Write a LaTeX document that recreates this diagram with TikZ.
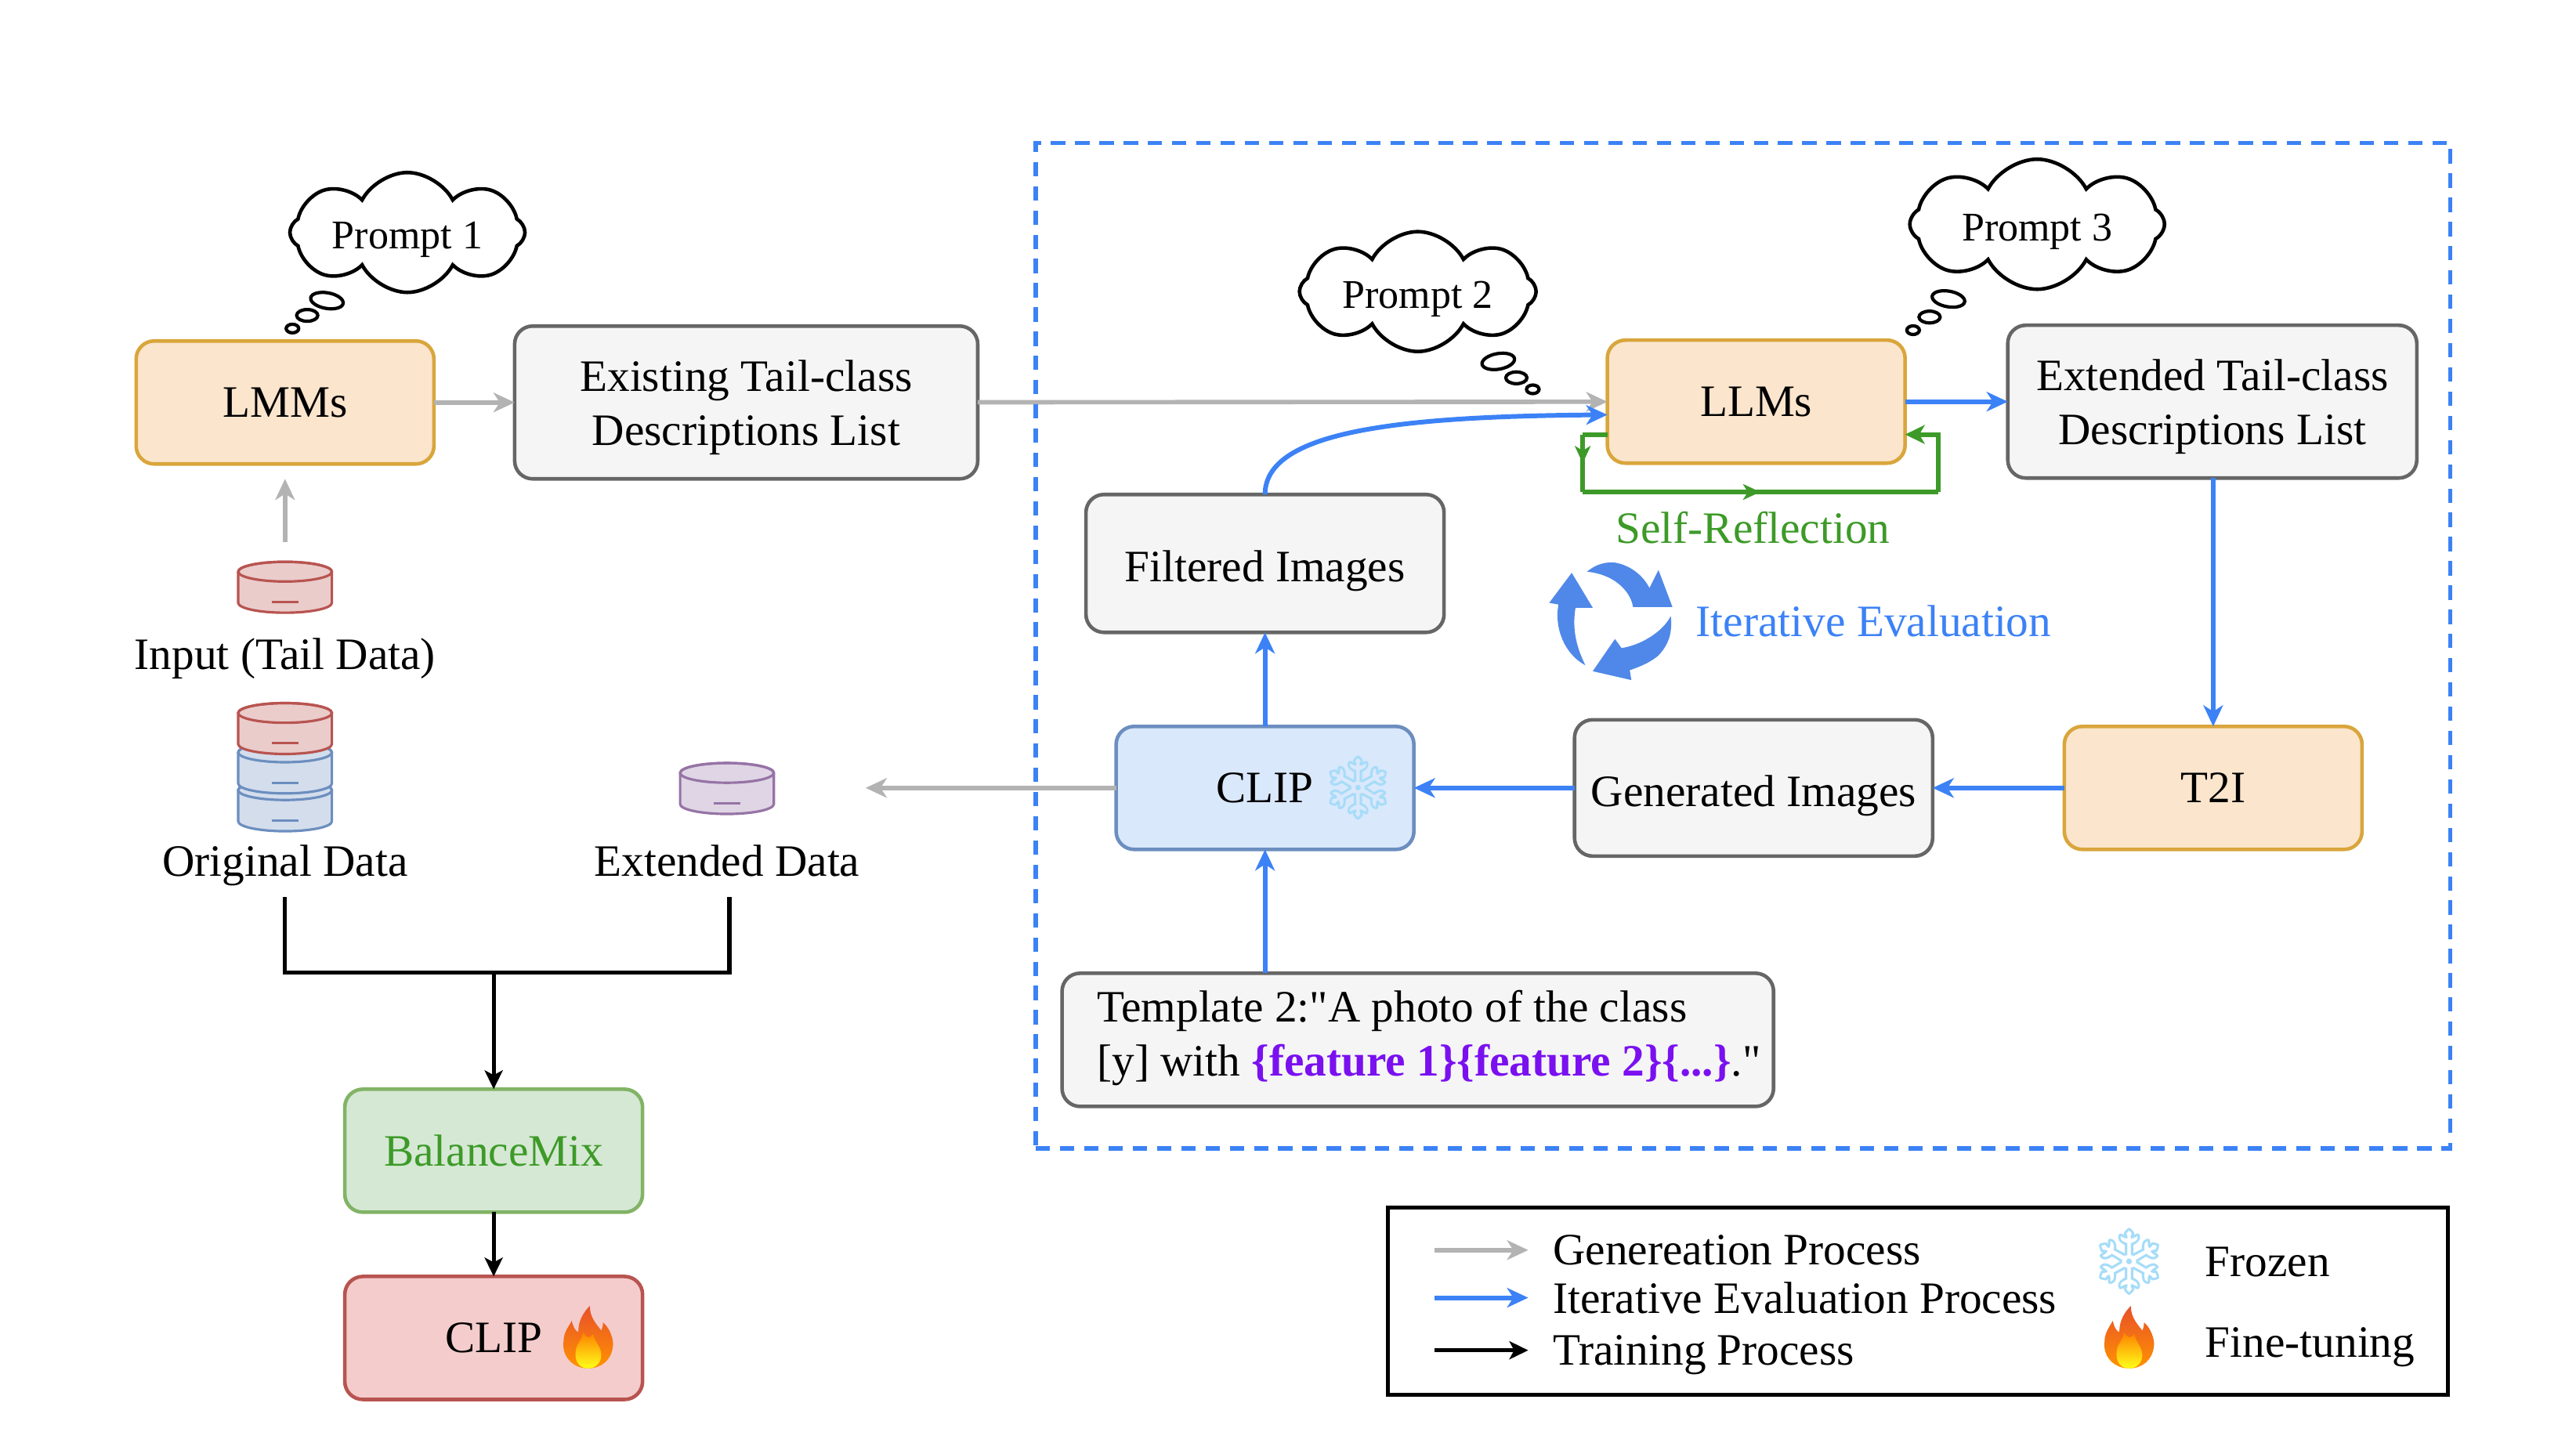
\documentclass[tikz,border=0pt]{standalone}
\usepackage{fontspec}
\setmainfont{Liberation Serif}[Ligatures=TeXOff]
\newfontfamily\emojifont{Noto Emoji}
\usetikzlibrary{shapes,shapes.symbols,arrows.meta,positioning,calc,decorations.markings}
\definecolor{lineblue}{HTML}{3C82F6}
\definecolor{iconblue}{HTML}{4F88E8}
\definecolor{selfgreen}{HTML}{3D9A28}
\definecolor{genpurple}{HTML}{7A10F0}
\definecolor{genarrgray}{HTML}{B3B3B3}
\definecolor{snowblue}{HTML}{A6DCF8}
\definecolor{orangeline}{HTML}{D9A63C}
\definecolor{orangefill}{HTML}{FBE5CD}
\definecolor{flamered}{HTML}{E8502A}
\definecolor{dbred}{HTML}{B85450}
\definecolor{dbblue}{HTML}{6C8EBF}
\definecolor{dbpurple}{HTML}{9673A6}
\definecolor{bluefill}{HTML}{DAE8FC}
\definecolor{redfill}{HTML}{F4CCCC}
\definecolor{greenfill}{HTML}{D5E8D4}
\definecolor{greenline}{HTML}{82B366}
\tikzset{
	basebox/.style={rectangle, rounded corners=0.23cm, line width=1.3pt, align=center, font=\fontsize{16.3}{19.6}\selectfont, inner sep=3pt, outer sep=0pt, text depth=0pt},
	modelbox/.style={basebox, minimum width=3.8cm, minimum height=1.57cm},
	listbox/.style={basebox, draw=black!60, fill=black!4},
	orangebox/.style={modelbox, draw=orangeline, fill=orangefill},
	cloudbox/.style={cloud, cloud puffs=8, cloud puff arc=125, cloud ignores aspect, draw=black, line width=1.3pt, fill=white, inner sep=0pt, font=\fontsize{14.8}{17}\selectfont, text depth=0pt, text height=12pt},
	bubble/.style={ellipse, draw=black, line width=1.2pt, inner sep=0pt, fill=white},
	plainlabel/.style={font=\fontsize{16.3}{19.6}\selectfont, inner sep=0pt, text depth=0pt},
	genarr/.style={-{Stealth[length=2.7mm, width=2.5mm, inset=0.8mm]}, line width=1.6pt, draw=genarrgray},
	iterarr/.style={-{Stealth[length=2.7mm, width=2.5mm, inset=0.8mm]}, line width=1.7pt, draw=lineblue},
	trainarr/.style={-{Stealth[length=2.4mm, width=2.3mm, inset=0.6mm]}, line width=1.5pt, draw=black},
	selfline/.style={line width=1.7pt, draw=selfgreen},
	midtip/.style={postaction={decorate}, decoration={markings, mark=at position 0.5 with {\arrow{Stealth[length=2.2mm, width=2mm, inset=0.6mm]}}}},
	pics/dbcan/.style={code={
		\path[fill=#1!30!white, draw=#1, line width=0.9pt] (-28.5,-9.5) -- (-28.5,9.5)
			arc[start angle=180, end angle=0, x radius=28.5, y radius=6] -- (28.5,-9.5)
			arc[start angle=0, end angle=-180, x radius=28.5, y radius=6] -- cycle;
		\draw[#1, line width=0.9pt] (0,-9.5) ellipse[x radius=28.5, y radius=6];
		\draw[#1, line width=0.9pt] (-8,9) -- (8,9);
	}},
	pics/flame/.style={code={
		\shade[top color=flamered, bottom color=orange!85!yellow]
			(0,19) .. controls (-10,19) and (-16,11) .. (-15,3)
			.. controls (-15,-3) and (-12,-6) .. (-10,-10)
			.. controls (-9,-6) and (-8,-4) .. (-6,-3)
			.. controls (-6,-10) and (-3,-15) .. (1,-19)
			.. controls (1,-12) and (5,-8) .. (8,-4)
			.. controls (9,-6) and (9,-8) .. (9,-9)
			.. controls (13,-6) and (16,2) .. (15,6)
			.. controls (14,14) and (8,19) .. (0,19) -- cycle;
		\shade[top color=orange, bottom color=yellow!90!white]
			(0,19) .. controls (-7,19) and (-9,12) .. (-7,6)
			.. controls (-6,3) and (-4,2) .. (-3,-3)
			.. controls (-1,1) and (1,1) .. (3,-2)
			.. controls (4,3) and (8,6) .. (8,11)
			.. controls (8,15) and (5,19) .. (0,19) -- cycle;
	}}
}

\begin{document}
\begin{tikzpicture}[x=0.02097cm, y=-0.02097cm]
	\useasboundingbox (0,0) rectangle (1568,871.7);

	% left column
	\node[orangebox] (lmm) at (173.5,245) {LMMs};
	\node[listbox, minimum width=5.91cm, minimum height=1.95cm, right=1.03cm of lmm] (exist) {Existing Tail-class\\Descriptions List};
	\coordinate (inp) at (173.5,357.5);
	\pic at (inp) {dbcan=dbred};
	\node[plainlabel] (inplab) at (173.5,398) {Input (Tail Data)};
	\coordinate (orgc) at (173.5,490.5);
	\coordinate (orgb) at (173.5,467.5);
	\coordinate (orga) at (173.5,443.5);
	\pic at (orgc) {dbcan=dbblue};
	\pic at (orgb) {dbcan=dbblue};
	\pic at (orga) {dbcan=dbred};
	\node[plainlabel] (orglab) at (173.5,524) {Original Data};
	\coordinate (extc) at (442.5,480);
	\pic at (extc) {dbcan=dbpurple};
	\node[plainlabel] (extlab) at (442.5,524) {Extended Data};

	% iterative part
	\node[orangebox] (llm) at (1069,244.5) {LLMs};
	\node[listbox, minimum width=5.22cm, minimum height=1.95cm, right=1.31cm of llm] (extd) {Extended Tail-class\\Descriptions List};
	\node[listbox, minimum width=4.57cm, minimum height=1.76cm, text height=13.5pt] (filt) at (770,343) {Filtered Images};
	\node[modelbox, draw=dbblue, fill=bluefill, below=1.2cm of filt] (clipf) {CLIP};
	\node[listbox, minimum width=4.57cm, minimum height=1.74cm, text height=13.5pt, right=2.05cm of clipf] (gen) {Generated Images};
	\node[orangebox, right=1.68cm of gen] (tti) {T2I};
	\node[listbox, minimum width=9.08cm, minimum height=1.7cm] (tmpl) at (863,633) {};
	\node[plainlabel, anchor=west, align=left] (tmpltext) at ($(tmpl.west)+(21,-4)$) {Template 2:"A photo of the class\\{}[y] with \textcolor{genpurple}{\textbf{\{feature 1\}\{feature 2\}\{...\}}}."};
	\node[inner sep=0pt, text=snowblue, font=\emojifont\fontsize{23}{23}\selectfont] (snowa) at (827,479.5) {❄};

	% training part
	\node[modelbox, draw=greenline, fill=greenfill, text=selfgreen] (bal) at (300.5,700.5) {BalanceMix};
	\node[modelbox, draw=dbred, fill=redfill, below=0.82cm of bal] (clipt) {CLIP};
	\pic at (358,814) {flame};

	% prompts
	\node[cloudbox, minimum width=3cm, minimum height=1.53cm] (pra) at (248,141.5) {Prompt 1};
	\node[bubble, minimum width=0.42cm, minimum height=0.2cm, rotate=-10] (pra1) at (199,183) {};
	\node[bubble, minimum width=0.27cm, minimum height=0.15cm] (pra2) at (187,192) {};
	\node[bubble, minimum width=0.16cm, minimum height=0.11cm] (pra3) at (178,200) {};
	\node[cloudbox, minimum width=3.02cm, minimum height=1.53cm] (prb) at (863,177.5) {Prompt 2};
	\node[bubble, minimum width=0.42cm, minimum height=0.2cm, rotate=10] (prb1) at (912,220) {};
	\node[bubble, minimum width=0.27cm, minimum height=0.15cm] (prb2) at (923,230) {};
	\node[bubble, minimum width=0.16cm, minimum height=0.11cm] (prb3) at (933,237) {};
	\node[cloudbox, minimum width=3.25cm, minimum height=1.66cm] (prc) at (1240,136.5) {Prompt 3};
	\node[bubble, minimum width=0.42cm, minimum height=0.2cm, rotate=-10] (prc1) at (1186,182) {};
	\node[bubble, minimum width=0.27cm, minimum height=0.15cm] (prc2) at (1174.5,193) {};
	\node[bubble, minimum width=0.16cm, minimum height=0.11cm] (prc3) at (1164.5,201) {};

	% connectors
	\draw[genarr] (lmm)--(exist);
	\draw[genarr, shorten >=0.19cm, shorten <=0.58cm] (inp)--(lmm);
	\draw[genarr] (exist)--(llm);
	\draw[genarr, shorten >=1.77cm] (clipf.west)--(clipf.west -| extc);
	\coordinate (llmin) at ($(llm.west)+(0,8)$);
	\draw[iterarr] (filt.north) .. controls +(0,-38) and +(-130,1) .. (llmin);
	\draw[iterarr] (llm)--(extd);
	\draw[iterarr] (tti |- extd.south)--(tti.north);
	\draw[iterarr] (tti)--(gen);
	\draw[iterarr] (gen)--(clipf);
	\draw[iterarr] (clipf)--(filt);
	\draw[iterarr] (clipf |- tmpl.north)--(clipf.south);

	% self reflection loop
	\coordinate (sfa) at ($(llm.west)+(0,20)$);
	\coordinate (sfb) at ($(sfa)+(-15,0)$);
	\coordinate (sfc) at ($(sfb)+(0,35)$);
	\coordinate (sfe) at ($(llm.east)+(0,20)$);
	\coordinate (sff) at ($(sfe)+(20,0)$);
	\coordinate (sfd) at ($(sff)+(0,35)$);
	\draw[selfline] (sfa)--(sfb);
	\draw[selfline, midtip] (sfb)--(sfc);
	\draw[selfline, midtip] (sfc)--(sfd);
	\draw[selfline, -{Stealth[length=2.5mm, width=2.4mm, inset=0.7mm]}] (sfd)--(sff)--(sfe);
	\node[plainlabel, text=selfgreen] (selflab) at (1067,321) {Self-Reflection};

	% cycle icon
	\fill[iconblue] (956.7,348.7) -- (943,367) -- (948.6,368) .. controls (946,382) and (952,398) .. (965,405) .. controls (959,393) and (957,382) .. (959,370) -- (969.5,370) -- cycle;
	\fill[iconblue] (966,348) .. controls (972,343) and (978,342) .. (983,342.5) .. controls (992,344) and (1000,350) .. (1004,358) -- (1009.5,347) -- (1018,369.5) -- (994,369.5) .. controls (993,362) and (985,350) .. (966,348) -- cycle;
	\fill[iconblue] (1017,375) .. controls (1018,385) and (1016,392) .. (1009.5,399) .. controls (1005,403) and (998,406) .. (992,408) -- (993,414) -- (969.5,408.6) -- (983,389) -- (987,394.5) .. controls (998,393) and (1012,385) .. (1017,375) -- cycle;
	\node[plainlabel, anchor=west, text=lineblue] (iterlab) at (1032,378) {Iterative Evaluation};

	% training lines
	\coordinate (orgdown) at (173.5,546);
	\coordinate (extdown) at (444,546);
	\coordinate (joinl) at (173.5,592);
	\coordinate (joinr) at (extdown |- joinl);
	\coordinate (joinm) at (bal |- joinl);
	\draw[line width=1.5pt, line join=miter] (orgdown)--(joinl)--(joinr)--(extdown);
	\draw[trainarr] (joinm)--(bal);
	\draw[trainarr] (bal)--(clipt);

	% dashed frame
	\node[draw=lineblue, dash pattern=on 5.2pt off 3.6pt, line width=1.6pt, minimum width=861*0.02097cm, minimum height=612*0.02097cm, inner sep=0pt] (iterframe) at (1061,393) {};

	% legend
	\node[draw=black, line width=1.4pt, minimum width=645*0.02097cm, minimum height=114*0.02097cm, inner sep=0pt] (legend) at (1167.5,792) {};
	\node[plainlabel, anchor=west] (lgen) at (945,761) {Genereation Process};
	\node[plainlabel, anchor=west] (liter) at (945,790) {Iterative Evaluation Process};
	\node[plainlabel, anchor=west] (ltrain) at (945,822) {Training Process};
	\coordinate[left=0.31cm of lgen] (lgenb);
	\coordinate[left=1.51cm of lgen] (lgena);
	\coordinate[left=0.31cm of liter] (literb);
	\coordinate[left=1.51cm of liter] (litera);
	\coordinate[left=0.31cm of ltrain] (ltrainb);
	\coordinate[left=1.51cm of ltrain] (ltraina);
	\draw[genarr] (lgena)--(lgenb);
	\draw[iterarr] (litera)--(literb);
	\draw[trainarr] (ltraina)--(ltrainb);
	\node[inner sep=0pt, text=snowblue, font=\emojifont\fontsize{24}{24}\selectfont] (snowb) at (1296,768) {❄};
	\pic at (1296,814) {flame};
	\node[plainlabel, anchor=west] (lfroz) at (1342,768) {Frozen};
	\node[plainlabel, anchor=west] (lfine) at (1342,817) {Fine-tuning};
\end{tikzpicture}
\end{document}
